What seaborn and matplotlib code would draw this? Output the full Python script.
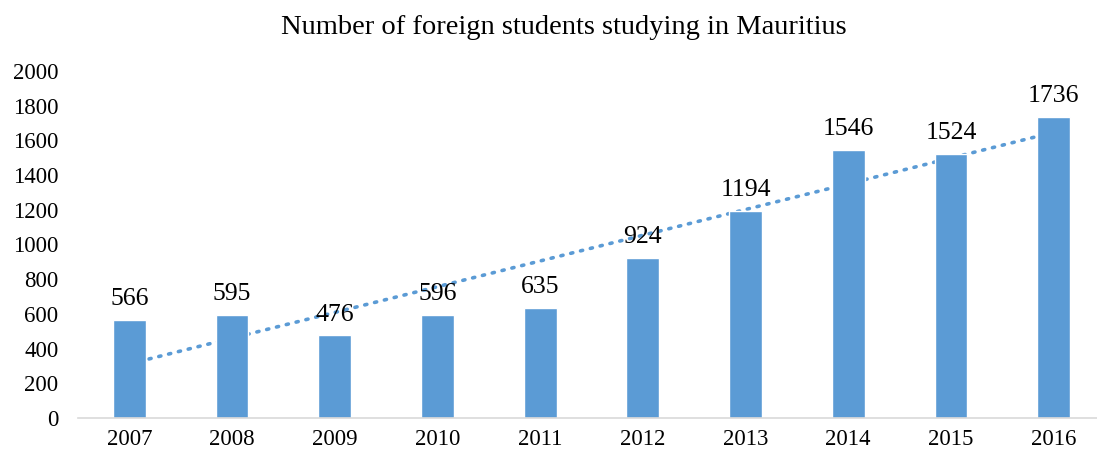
import numpy as np
import pandas as pd
import matplotlib
matplotlib.use("Agg")
import matplotlib.pyplot as plt
import seaborn as sns

# Data
years = ['2007', '2008', '2009', '2010', '2011', '2012', '2013', '2014', '2015', '2016']
students = [566, 595, 476, 596, 635, 924, 1194, 1546, 1524, 1736]

df = pd.DataFrame({'Year': years, 'Students': students})

sns.set_style("white")
plt.rcParams['font.family'] = ['Liberation Serif', 'DejaVu Serif']
plt.rcParams['text.color'] = 'black'
plt.rcParams['xtick.color'] = 'black'
plt.rcParams['ytick.color'] = 'black'

fig = plt.figure(figsize=(10.97, 4.55), dpi=100)
ax = fig.add_axes([78 / 1097, 1 - 418 / 455, (1105 - 78) / 1097, 347 / 455])

bar_color = '#5B9BD5'

# Linear trendline (drawn behind bars)
x_pos = np.arange(len(years))
slope, intercept = np.polyfit(x_pos, students, 1)
ax.plot(x_pos, slope * x_pos + intercept, linestyle=(0, (0.6, 2.2)), color=bar_color,
        linewidth=2.6, dash_capstyle='round', zorder=1)

sns.barplot(data=df, x='Year', y='Students', color=bar_color, saturation=1,
            width=0.32, ax=ax, zorder=2)

for i, v in enumerate(students):
    ax.annotate(str(v), (i, v), xytext=(0, 7), textcoords='offset points',
                ha='center', va='bottom', fontsize=18.5, zorder=3)

ax.set_ylim(0, 2000)
ax.set_yticks(range(0, 2001, 200))
ax.set_xlim(-0.5, len(years) - 0.5)
ax.set_xlabel('')
ax.set_ylabel('')
ax.tick_params(axis='y', length=0, pad=14, labelsize=16.5)
ax.tick_params(axis='x', length=0, pad=8, labelsize=16.5)

for s in ['top', 'right', 'left']:
    ax.spines[s].set_visible(False)
ax.spines['bottom'].set_color('#D9D9D9')
ax.spines['bottom'].set_linewidth(1.2)
ax.grid(False)

fig.text(564 / 1097, 1 - 27 / 455, 'Number of foreign students studying in Mauritius',
         ha='center', va='center', fontsize=20.5)

fig.savefig('out.png', dpi=100)
